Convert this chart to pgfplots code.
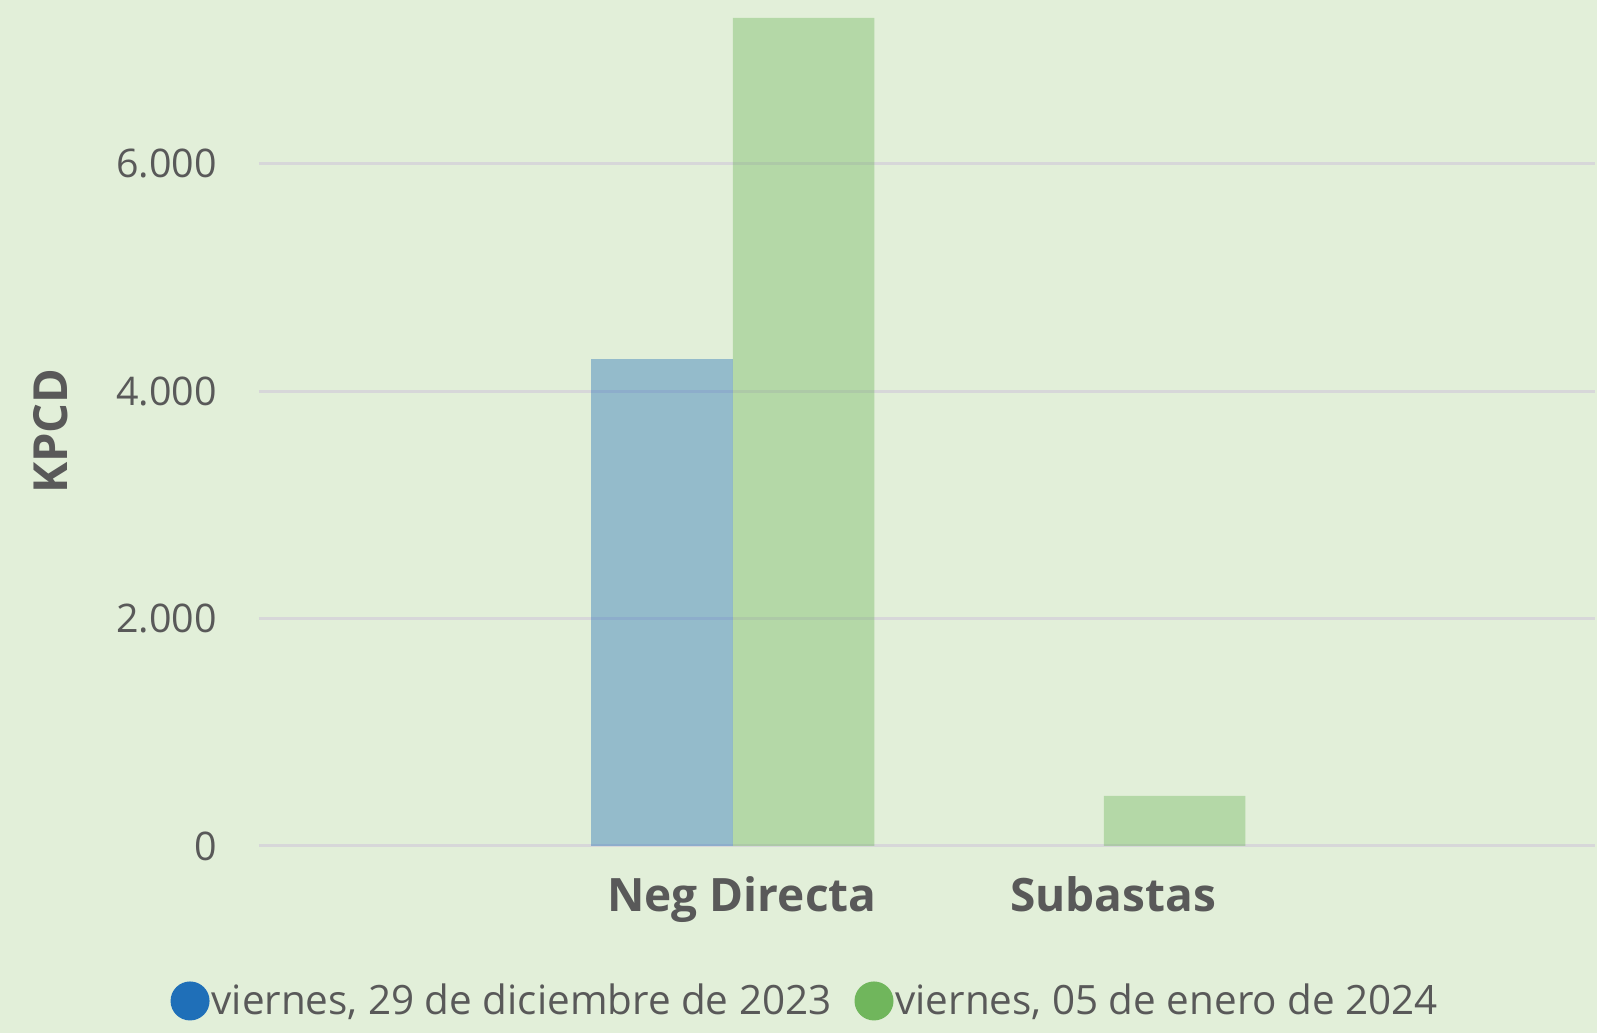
\documentclass[border=0pt]{standalone}
\usepackage{fontspec}
\setmainfont{Open Sans}
\usepackage{pgfplots}
\pgfplotsset{compat=1.18}
\definecolor{bg}{HTML}{E2EFD9}
\definecolor{txt}{HTML}{595959}
\definecolor{gridc}{HTML}{D7D7D9}
\definecolor{cblue}{HTML}{1F6FB8}
\definecolor{cgreen}{HTML}{70B65C}
\begin{document}
\begin{tikzpicture}
\fill[bg] (0,0) rectangle (798.5pt,516.5pt);
\begin{axis}[
  at={(129.5pt,93.5pt)}, anchor=south west,
  scale only axis, width=668pt, height=415pt,
  xmin=-1.2776, xmax=2.3235, ymin=0, ymax=7300,
  ybar=0pt, bar width=0.3814,
  axis line style={draw=none}, tick style={draw=none},
  ymajorgrids, xmajorgrids=false, grid style={draw=gridc, line width=1.5pt},
  xtick={0,1}, xticklabels={Neg Directa,Subastas},
  ytick={0,2000,4000,6000}, yticklabels={0,2.000,4.000,6.000},
  xticklabel style={font=\fontsize{23}{27}\selectfont\bfseries, text=txt, anchor=base, yshift=-28.5pt, xshift=4.5pt},
  yticklabel style={font=\fontsize{19.7}{24}\selectfont, text=txt, inner sep=0pt, xshift=-21pt, anchor=east},
  ylabel={KPCD},
  every axis y label/.style={at={(axis description cs:-0.1557,0.5)}, rotate=90, anchor=center, font=\fontsize{23.5}{28}\selectfont\bfseries, text=txt},
  legend style={at={(axis description cs:-0.0662,-0.1867)}, anchor=west, draw=none, fill=none, inner sep=0pt, outer sep=0pt,
    legend columns=2, font=\fontsize{20.2}{24}\selectfont, text=txt,
    /tikz/every even column/.append style={column sep=10.5pt},
    nodes={inner sep=1pt}},
  legend cell align=left,
]
\addplot[fill=cblue, fill opacity=0.4, draw=none,
  legend image code/.code={\fill[cblue, fill opacity=1] (9.75pt,0pt) circle (9.75pt);}]
  coordinates {(0,4284)};
\addlegendentry{viernes, 29 de diciembre de 2023}
\addplot[fill=cgreen, fill opacity=0.4, draw=none,
  legend image code/.code={\fill[cgreen, fill opacity=1] (9.75pt,0pt) circle (9.75pt);}]
  coordinates {(0,7284) (1,440)};
\addlegendentry{viernes, 05 de enero de 2024}
\end{axis}
\pgfresetboundingbox
\path[use as bounding box] (0,0) rectangle (798.5pt,516.5pt);
\end{tikzpicture}
\end{document}
